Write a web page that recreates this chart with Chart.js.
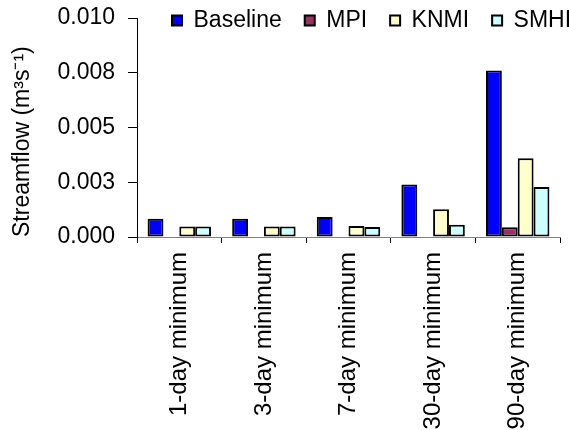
<!DOCTYPE html>
<html>
<head>
<meta charset="utf-8">
<script src="https://cdn.jsdelivr.net/npm/chart.js@4/dist/chart.umd.min.js"></script>
<style>
  html, body { margin: 0; padding: 0; background: #fff; }
  #wrap { width: 569px; height: 430px; }
</style>
</head>
<body>
<div id="wrap"><canvas id="c" width="569" height="430"></canvas></div>
<script>
// Low-flow statistics: baseline vs. three climate model runs
const categories = ['1-day minimum', '3-day minimum', '7-day minimum', '30-day minimum', '90-day minimum'];
const baseline = [0.00083, 0.00083, 0.00091, 0.0024, 0.0076];
const mpi      = [0, 0, 0, 0, 0.00045];
const knmi     = [0.00048, 0.00048, 0.0005, 0.00127, 0.0036];
const smhi     = [0.00048, 0.00048, 0.00046, 0.00056, 0.00228];
const yTickLabels = ['0.000', '0.003', '0.005', '0.008', '0.010'];
const yTitle = 'Streamflow (m\u00B3s\u207B\u00B9)';

const font = { family: "'Liberation Sans', Arial, sans-serif", size: 23 };
const catFont = { family: "'Liberation Sans', Arial, sans-serif", size: 24 };

function series(label, data, color) {
  return {
    label, data,
    backgroundColor: color,
    borderColor: '#000',
    borderWidth: 2,
    borderSkipped: false,
    barPercentage: 1.0,
    categoryPercentage: 0.75
  };
}

// Put the legend row over the top of the plot, starting near the first category
const legendPlacement = {
  id: 'legendPlacement',
  afterLayout(chart) {
    const lg = chart.legend;
    if (!lg) return;
    lg.left = 149;
    lg.right = 800;
    lg.top = -14;
    lg.bottom = 45;
  }
};

new Chart(document.getElementById('c'), {
  type: 'bar',
  data: {
    labels: categories,
    datasets: [
      series('Baseline', baseline, '#0000FF'),
      series('MPI', mpi, '#993366'),
      series('KNMI', knmi, '#FFFFCC'),
      series('SMHI', smhi, '#CCFFFF')
    ]
  },
  options: {
    responsive: false,
    devicePixelRatio: 1,
    animation: false,
    layout: { padding: { top: 17, right: 9, left: 0, bottom: 0 } },
    plugins: {
      legend: {
        position: 'top',
        align: 'start',
        maxHeight: 1,
        labels: { boxWidth: 10, boxHeight: 10, padding: 23, color: '#000', font }
      },
      tooltip: { enabled: false }
    },
    scales: {
      x: {
        ticks: { minRotation: 90, maxRotation: 90, autoSkip: false, padding: 9, color: '#000', font: catFont },
        grid: { drawOnChartArea: false, tickLength: 6, color: '#000', offset: true },
        border: { color: '#808080', width: 1 },
        afterFit: s => { s.height = 193; }
      },
      y: {
        min: 0,
        max: 0.01,
        ticks: {
          stepSize: 0.0025,
          padding: 13,
          color: '#000',
          font,
          callback: (v, i) => yTickLabels[i]
        },
        grid: { drawOnChartArea: false, tickLength: 9, color: '#000' },
        border: { color: '#000', width: 1 },
        title: { display: true, text: yTitle, align: 'start', color: '#000', font, padding: { top: 9, bottom: 0 } },
        afterFit: s => { s.width = 137; s.paddingTop = 0; s.paddingBottom = 0; }
      }
    }
  },
  plugins: [legendPlacement]
});
</script>
</body>
</html>
